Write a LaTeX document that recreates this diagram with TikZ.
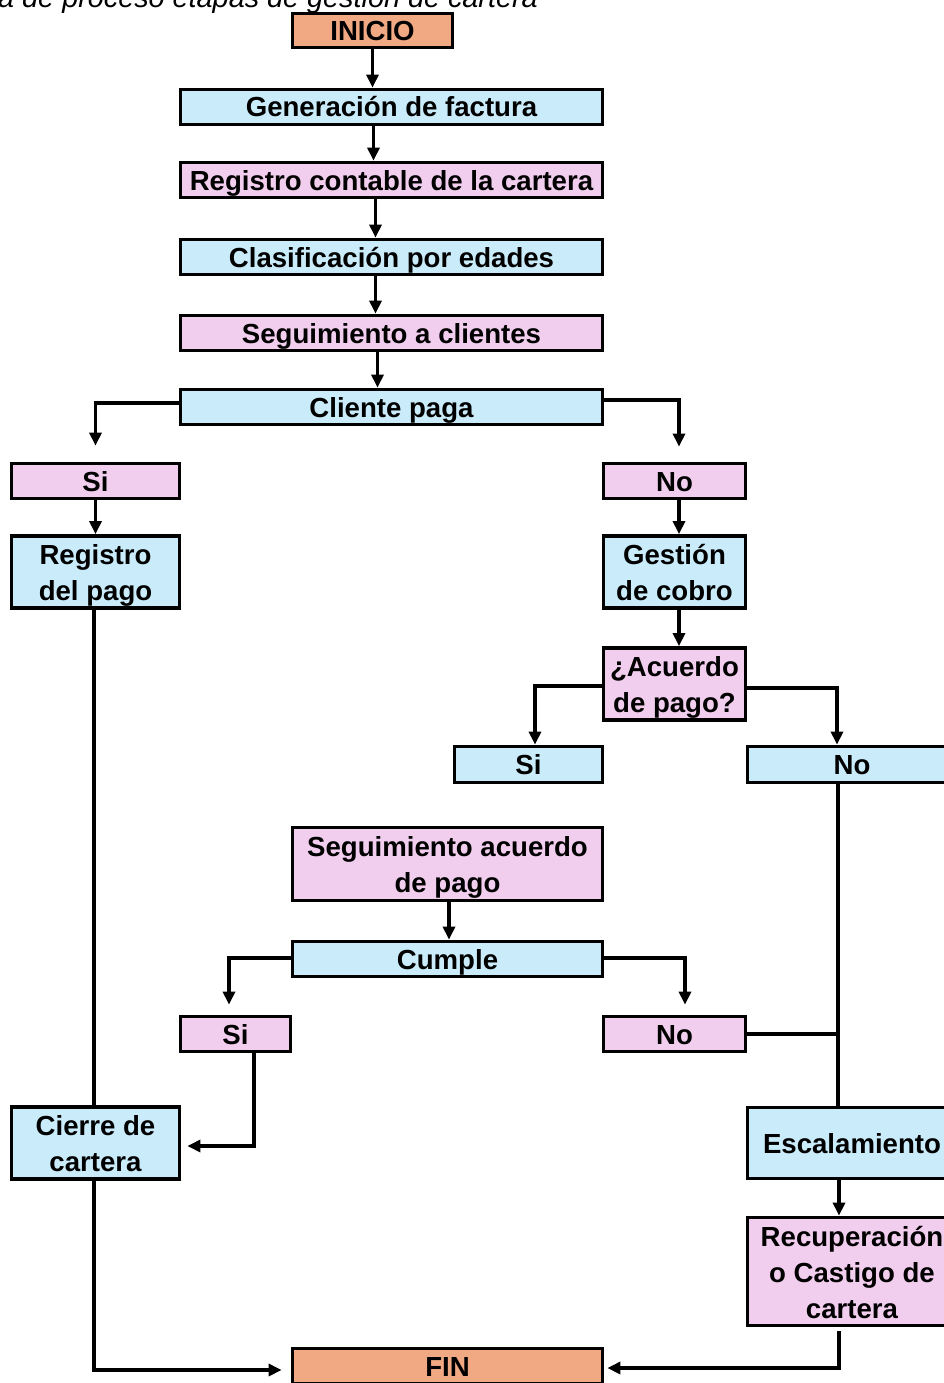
\documentclass[tikz,border=0pt]{standalone}
\usepackage{fontspec}
\setmainfont{Liberation Sans}
\usetikzlibrary{arrows.meta,calc}
\definecolor{salmon}{RGB}{241,169,131}
\definecolor{lblue}{RGB}{202,236,250}
\definecolor{lpink}{RGB}{242,206,238}
\newcommand{\mlines}[1]{\raisebox{-3.5pt}[\height][\depth]{\begin{tabular}{@{}c@{}}#1\end{tabular}}}
\begin{document}
\begin{tikzpicture}[x=1pt,y=-1pt,
  box/.style={draw, line width=3.8pt, inner sep=0pt, align=center,
    text height=24.5pt, text depth=4.5pt,
    font=\fontsize{27.6}{36}\selectfont\bfseries},
  mbox/.style={draw, line width=3.8pt, inner sep=0pt,
    font=\fontsize{27.6}{36}\selectfont\bfseries},
  bl/.style={box, fill=lblue},
  pk/.style={box, fill=lpink},
  sm/.style={box, fill=salmon},
  mbl/.style={mbox, fill=lblue},
  mpk/.style={mbox, fill=lpink},
  ln/.style={line width=3.4pt},
  arr/.style={line width=3.4pt, -{Triangle[length=13pt,width=12pt]}}]
\useasboundingbox (0,0) rectangle (943,1383);

\node[anchor=base east, inner sep=0pt, font=\fontsize{28.8}{30}\selectfont\itshape] (cap) at (538,8) {a de proceso etapas de gestión de cartera};

\node[sm, minimum width=160pt, minimum height=34pt] (inicio) at (372.5,30.5) {INICIO};
\node[bl, minimum width=422pt, minimum height=35pt] (gen) at (391.5,107) {Generación de factura};
\node[pk, minimum width=422pt, minimum height=35pt] (reg) at (391.5,180) {Registro contable de la cartera};
\node[bl, minimum width=422pt, minimum height=35pt] (clas) at (391.5,257) {Clasificación por edades};
\node[pk, minimum width=422pt, minimum height=35pt] (seg) at (391.5,333) {Seguimiento a clientes};
\node[bl, minimum width=422pt, minimum height=35pt] (cp) at (391.5,407) {Cliente paga};

\node[pk, minimum width=168pt, minimum height=35pt] (si1) at (95.5,481) {Si};
\node[pk, minimum width=142pt, minimum height=35pt] (no1) at (674.5,481) {No};
\node[mbl, minimum width=168pt, minimum height=71pt] (regp) at (95.5,572) {\mlines{Registro\\del pago}};
\node[mbl, minimum width=142pt, minimum height=71pt] (gest) at (674.5,572) {\mlines{Gestión\\de cobro}};
\node[mpk, minimum width=142pt, minimum height=71pt] (acu) at (674.5,684) {\mlines{¿Acuerdo\\de pago?}};

\node[bl, minimum width=148pt, minimum height=36pt] (si2) at (528.5,764.5) {Si};
\node[bl, minimum width=209pt, minimum height=36pt] (no2) at (852,764.5) {No};

\node[mpk, minimum width=310pt, minimum height=73pt] (sap) at (447.5,864) {\mlines{Seguimiento acuerdo\\de pago}};
\node[bl, minimum width=310pt, minimum height=35pt] (cum) at (447.5,959) {Cumple};
\node[pk, minimum width=110pt, minimum height=35pt] (si3) at (235.5,1034) {Si};
\node[pk, minimum width=142pt, minimum height=35pt] (no3) at (674.5,1034) {No};

\node[mbl, minimum width=168pt, minimum height=71pt] (cie) at (95.5,1143) {\mlines{Cierre de\\cartera}};
\node[bl, minimum width=209pt, minimum height=71pt] (esc) at (852,1143) {Escalamiento};
\node[mpk, minimum width=209pt, minimum height=108pt] (rec) at (852,1271.5) {\mlines{Recuperación\\o Castigo de\\cartera}};
\node[sm, minimum width=310pt, minimum height=35pt] (fin) at (447.5,1366) {FIN};

% main chain
\draw[arr] (inicio.south) -- (inicio.south |- gen.north);
\draw[arr] ([xshift=-18pt]gen.south) -- ([xshift=-18pt]reg.north);
\draw[arr] ([xshift=-16pt]reg.south) -- ([xshift=-16pt]clas.north);
\draw[arr] ([xshift=-16pt]clas.south) -- ([xshift=-16pt]seg.north);
\draw[arr] ([xshift=-14pt]seg.south) -- ([xshift=-14pt]cp.north);

% Cliente paga branches
\draw[arr, shorten >=16pt] ([yshift=4pt]cp.west) -| (si1.north);
\draw[arr, shorten >=15pt] ([yshift=7pt]cp.east) -| ([xshift=4.5pt]no1.north);
\draw[arr] (si1.south) -- (regp.north);
\draw[arr] ([xshift=4.5pt]no1.south) -- ([xshift=4.5pt]gest.north);
\draw[arr] ([xshift=4.5pt]gest.south) -- ([xshift=4.5pt]acu.north);

% Acuerdo branches
\draw[arr] ([yshift=-2pt]acu.west) -| ([xshift=6.5pt]si2.north);
\draw[arr] ([yshift=-4pt]acu.east) -| ([xshift=-15pt]no2.north);
\coordinate (vx) at ([xshift=-14pt]no2.south);
\draw[ln] (vx) -- (vx |- esc.north);
\draw[ln] (no3.east) -- (vx |- no3.east);

% Seguimiento acuerdo
\draw[arr] ([xshift=1.5pt]sap.south) -- ([xshift=1.5pt]cum.north);
\draw[arr, shorten >=10pt] ([yshift=1pt]cum.west) -| ([xshift=-6.5pt]si3.north);
\draw[arr, shorten >=10pt] ([yshift=1pt]cum.east) -| ([xshift=10.5pt]no3.north);
\draw[arr, shorten >=6pt] ([xshift=18.5pt]si3.south) |- ([yshift=-3pt]cie.east);

% left column
\draw[ln] ([xshift=-1.5pt]regp.south) -- ([xshift=-1.5pt]cie.north);
\draw[arr, shorten >=9pt] ([xshift=-1.5pt]cie.south) |- ([yshift=-4pt]fin.west);

% right column
\draw[arr] ([xshift=-13pt]esc.south) -- ([xshift=-13pt]rec.north);
\draw[arr, shorten >=3pt] ([xshift=-13pt,yshift=-4pt]rec.south) |- ([yshift=-2pt]fin.east);
\end{tikzpicture}
\end{document}
